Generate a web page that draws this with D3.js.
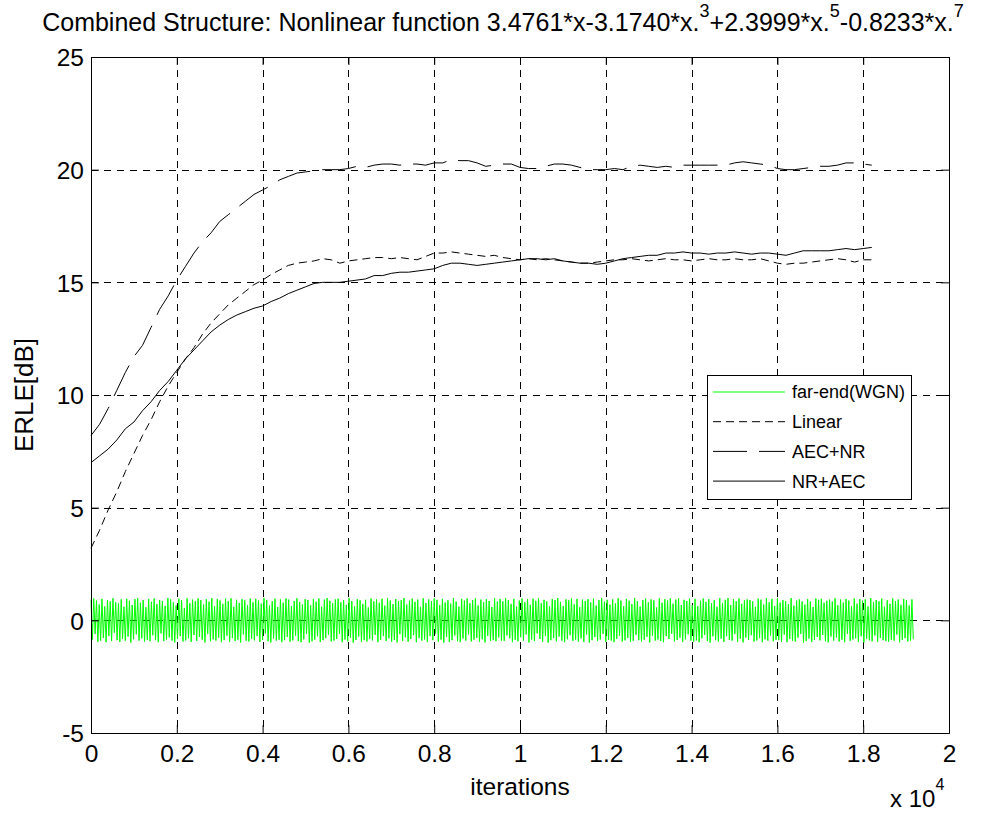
<!DOCTYPE html>
<html>
<head>
<meta charset="utf-8">
<script src="https://cdn.jsdelivr.net/npm/d3@7"></script>
<style>
  body { margin: 0; background: #fff; }
  svg { display: block; font-family: "Liberation Sans", Arial, sans-serif; }
</style>
</head>
<body>
<svg width="994" height="814"></svg>
<script>
// ---- data ----
// curves are sampled every 200 iterations, from 0 to 18200
const iterations = d3.range(0, 18201, 200);

const linear = [3.2, 4.0, 4.9, 5.7, 6.6, 7.4, 8.2, 8.9, 9.7, 10.4,
  11.0, 11.6, 12.1, 12.7, 13.2, 13.6, 14.0, 14.3, 14.6, 14.9,
  15.1, 15.35, 15.55, 15.75, 15.85, 15.9, 15.95, 16.05, 16.0, 15.85,
  15.95, 16.0, 16.05, 16.1, 16.1, 16.05, 16.1, 16.05, 16.0, 16.15,
  16.3, 16.3, 16.35, 16.3, 16.25, 16.2, 16.15, 16.2, 16.1, 16.05,
  16.0, 16.05, 16.0, 16.05, 16.0, 15.95, 15.9, 15.85, 15.85, 15.9,
  15.95, 16.0, 16.0, 16.05, 16.0, 15.95, 16.0, 16.05, 16.0, 16.0,
  15.95, 16.0, 16.05, 16.0, 16.0, 16.05, 16.0, 16.0, 16.05, 15.95,
  15.85, 15.8, 15.85, 15.85, 15.9, 15.95, 16.0, 16.05, 16.0, 15.9,
  16.0, 16.0];

const aecNr = [8.2, 8.7, 9.4, 10.2, 11.0, 11.7, 12.2, 13.0, 13.8, 14.4,
  15.1, 15.7, 16.3, 16.8, 17.2, 17.7, 18.0, 18.3, 18.6, 18.9,
  19.1, 19.3, 19.55, 19.7, 19.85, 19.9, 19.95, 20.0, 20.0, 20.0,
  20.05, 20.15, 20.1, 20.2, 20.25, 20.25, 20.2, 20.25, 20.25, 20.2,
  20.3, 20.3, 20.45, 20.4, 20.4, 20.3, 20.15, 20.2, 20.25, 20.25,
  20.1, 20.05, 20.05, 20.15, 20.25, 20.25, 20.2, 20.1, 20.0, 20.0,
  20.0, 20.05, 20.0, 20.15, 20.2, 20.15, 20.1, 20.15, 20.1, 20.2,
  20.2, 20.2, 20.2, 20.2, 20.2, 20.3, 20.35, 20.3, 20.25, 20.2,
  20.05, 20.0, 20.0, 20.05, 20.1, 20.15, 20.15, 20.2, 20.3, 20.3,
  20.25, 20.2];

const nrAec = [7.0, 7.3, 7.6, 8.0, 8.5, 8.8, 9.3, 9.7, 10.2, 10.6,
  11.1, 11.6, 12.0, 12.4, 12.8, 13.1, 13.35, 13.55, 13.7, 13.85,
  13.95, 14.15, 14.3, 14.5, 14.65, 14.8, 14.95, 15.0, 15.0, 15.0,
  15.05, 15.1, 15.15, 15.3, 15.3, 15.4, 15.45, 15.45, 15.5, 15.55,
  15.6, 15.75, 15.85, 15.85, 15.8, 15.75, 15.8, 15.85, 15.9, 15.95,
  16.0, 16.05, 16.05, 16.0, 16.05, 15.95, 15.9, 15.85, 15.85, 15.8,
  15.85, 15.95, 16.05, 16.1, 16.15, 16.2, 16.2, 16.3, 16.3, 16.35,
  16.3, 16.3, 16.25, 16.3, 16.3, 16.35, 16.3, 16.25, 16.3, 16.3,
  16.25, 16.2, 16.3, 16.4, 16.4, 16.4, 16.4, 16.45, 16.5, 16.45,
  16.5, 16.55];

// far-end white gaussian noise, one sample every 32 iterations
const farendStep = 32;
const farend = [
  0.92,-0.85,0.97,-0.6,0.88,-0.95,0.7,-0.9,0.95,-0.78,0.62,-0.97,0.9,-0.7,0.84,-0.92,0.98,-0.55,0.8,-0.88,
  0.75,-0.96,0.93,-0.82,0.6,-0.9,0.96,-0.72,0.87,-0.99,0.68,-0.84,0.94,-0.62,0.99,-0.9,0.78,-0.8,0.9,-0.95,
  0.58,-0.87,0.95,-0.93,0.82,-0.66,0.97,-0.88,0.72,-0.97,0.9,-0.58,0.86,-0.92,0.64,-0.85,0.99,-0.76,0.93,-0.9,
  0.8,-0.98,0.66,-0.83,0.96,-0.7,0.89,-0.94,0.55,-0.89,0.98,-0.8,0.76,-0.96,0.92,-0.65,0.85,-0.91,0.97,-0.74,
  0.9,-0.86,0.7,-0.98,0.94,-0.6,0.83,-0.93,0.99,-0.84,0.62,-0.9,0.95,-0.77,0.88,-0.97,0.73,-0.88,0.96,-0.68,
  0.85,-0.95,0.98,-0.79,0.6,-0.92,0.91,-0.86,0.77,-0.99,0.94,-0.63,0.89,-0.9,0.68,-0.94,0.97,-0.82,0.8,-0.89,
  0.95,-0.7,0.88,-0.96,0.74,-0.87,0.99,-0.58,0.9,-0.93,0.66,-0.98,0.85,-0.81,0.96,-0.9,0.59,-0.86,0.93,-0.97,
  0.78,-0.88,0.97,-0.74,0.92,-0.95,0.63,-0.89,0.86,-0.68,0.98,-0.92,0.81,-0.97,0.7,-0.84,0.94,-0.6,0.9,-0.99,
  0.67,-0.93,0.95,-0.86,0.83,-0.71,0.97,-0.96,0.6,-0.88,0.92,-0.79,0.99,-0.65,0.87,-0.94,0.76,-0.9,0.93,-0.83,
  0.96,-0.6,0.8,-0.97,0.9,-0.85,0.69,-0.93,0.98,-0.77,0.85,-0.99,0.62,-0.87,0.94,-0.72,0.89,-0.96,0.73,-0.88,
  0.91,-0.94,0.57,-0.82,0.97,-0.89,0.84,-0.64,0.93,-0.97,0.78,-0.86,0.96,-0.7,0.65,-0.92,0.99,-0.8,0.88,-0.95,
  0.72,-0.87,0.94,-0.98,0.86,-0.61,0.9,-0.91,0.99,-0.75,0.7,-0.95,0.87,-0.83,0.96,-0.66,0.82,-0.97,0.92,-0.79,
  0.6,-0.9,0.98,-0.85,0.77,-0.96,0.93,-0.7,0.85,-0.88,0.97,-0.59,0.91,-0.94,0.68,-0.86,0.95,-0.99,0.79,-0.73,
  0.89,-0.96,0.74,-0.88,0.99,-0.67,0.83,-0.93,0.61,-0.97,0.95,-0.81,0.88,-0.9,0.97,-0.63,0.76,-0.94,0.9,-0.86,
  0.97,-0.78,0.66,-0.95,0.92,-0.84,0.8,-0.98,0.94,-0.69,0.86,-0.91,0.59,-0.87,0.98,-0.93,0.83,-0.76,0.95,-0.9,
  0.84,-0.91,0.99,-0.67,0.9,-0.8,0.73,-0.97,0.95,-0.86,0.61,-0.93,0.88,-0.75,0.97,-0.9,0.8,-0.62,0.94,-0.98,
  0.69,-0.85,0.96,-0.92,0.87,-0.58,0.98,-0.83,0.76,-0.95,0.91,-0.7,0.84,-0.99,0.63,-0.88,0.95,-0.79,0.9,-0.93,
  0.99,-0.72,0.82,-0.9,0.64,-0.97,0.93,-0.84,0.89,-0.66,0.97,-0.91,0.71,-0.86,0.95,-0.94,0.58,-0.8,0.92,-0.96,
  0.86,-0.63,0.94,-0.99,0.79,-0.88,0.96,-0.74,0.66,-0.92,0.9,-0.85,0.98,-0.6,0.83,-0.95,0.91,-0.87,0.7,-0.9,
  0.93,-0.97,0.75,-0.82,0.98,-0.69,0.88,-0.94,0.62,-0.89,0.95,-0.78,0.87,-0.96,0.72,-0.91,0.99,-0.64,0.85,-0.88,
  0.61,-0.94,0.9,-0.86,0.96,-0.73,0.8,-0.98,0.93,-0.68,0.89,-0.9,0.57,-0.85,0.97,-0.92,0.78,-0.97,0.94,-0.7,
  0.88,-0.83,0.97,-0.6,0.74,-0.93,0.92,-0.87,0.99,-0.77,0.68,-0.96,0.91,-0.84,0.86,-0.62,0.96,-0.9,0.67,-0.95,
  0.95,-0.89,0.63,-0.97,0.87,-0.8,0.97,-0.65,0.82,-0.92,0.94,-0.99,0.76,-0.71,0.9,-0.88,0.6,-0.94,0.98,-0.81,
  0.77,-0.96,0.91,-0.7,0.99,-0.87,0.68,-0.9,0.94,-0.6,0.85,-0.95,0.97,-0.82,0.73,-0.98,0.89,-0.76,0.93,-0.87,
  0.9,-0.66,0.85,-0.94,0.6,-0.89,0.96,-0.79,0.92,-0.97,0.7,-0.84,0.98,-0.9,0.8,-0.68,0.95,-0.93,0.64,-0.86,
  0.97,-0.88,0.79,-0.95,0.9,-0.63,0.86,-0.97,0.72,-0.83,0.99,-0.91,0.65,-0.94,0.88,-0.77,0.93,-0.6,0.84,-0.99,
  0.7,-0.92,0.94,-0.81,0.83,-0.96,0.59,-0.87,0.97,-0.74,0.91,-0.89,0.96,-0.65,0.78,-0.93,0.87,-0.98,0.92,-0.72,
  0.83,-0.9,0.98,-0.76,0.67,-0.94,0.92,-0.86,0.79,-0.97,0.95,-0.6,0.88,-0.91,0.63,-0.85,0.97,-0.8,0.74,-0.96,
  0.94,-0.71,0.87,-0.98,0.93,-0.82,0.62,-0.89,0.99,-0.93,0.81,-0.67,0.9,-0.96,0.84,-0.78,0.96,-0.88,0.6,-0.92,
  0.89,-0.95,0.73,-0.86,0.97,-0.9,0.85,-0.63,0.92,-0.98,0.69,-0.87,0.95,-0.79,0.9,-0.94,0.66,-0.9,0.93,-0.84
];

const xTicks = [0, 2000, 4000, 6000, 8000, 10000, 12000, 14000, 16000, 18000, 20000];
const yTicks = [-5, 0, 5, 10, 15, 20, 25];
const legendNames = ["far-end(WGN)", "Linear", "AEC+NR", "NR+AEC"];

// ---- setup ----
const margin = { left: 91, right: 45, top: 57, bottom: 81 };
const width = 994, height = 814;
const plotW = width - margin.left - margin.right;
const plotH = height - margin.top - margin.bottom;

const svg = d3.select("svg");
const g = svg.append("g").attr("transform", `translate(${margin.left},${margin.top})`);

const x = d3.scaleLinear().domain([0, 20000]).range([0, plotW]);
const y = d3.scaleLinear().domain([-5, 25]).range([plotH, 0]);

// grid
const grid = g.append("g").attr("class", "grid")
  .attr("stroke", "#000").attr("stroke-width", 1).attr("stroke-dasharray", "7,6");
grid.selectAll(".vx").data(xTicks.slice(1, -1)).join("line")
  .attr("x1", d => Math.round(x(d)) + 0.5).attr("x2", d => Math.round(x(d)) + 0.5)
  .attr("y1", 0).attr("y2", plotH);
grid.selectAll(".hy").data(yTicks.slice(1, -1)).join("line")
  .attr("y1", d => Math.round(y(d)) + 0.5).attr("y2", d => Math.round(y(d)) + 0.5)
  .attr("x1", 0).attr("x2", plotW);

// series
const line = d3.line().x(d => x(d[0])).y(d => y(d[1]));

g.append("path")
  .datum(farend.map((v, i) => [i * farendStep, v]))
  .attr("d", line).attr("fill", "none")
  .attr("stroke", "#00ff00").attr("stroke-width", 1);

const curves = [
  { values: linear, dash: "8,5" },
  { values: aecNr, dash: "34,12" },
  { values: nrAec, dash: null }
];
curves.forEach(c => {
  g.append("path")
    .datum(iterations.map((t, i) => [t, c.values[i]]))
    .attr("d", line).attr("fill", "none")
    .attr("stroke", "#000").attr("stroke-width", 1)
    .attr("stroke-dasharray", c.dash);
});

// axes (inward ticks on all four sides)
const fmtX = d => d3.format("")(d / 10000);
const axB = g.append("g").attr("transform", `translate(0,${plotH})`)
  .call(d3.axisBottom(x).tickValues(xTicks).tickSize(-8).tickPadding(12).tickFormat(fmtX));
const axT = g.append("g")
  .call(d3.axisTop(x).tickValues(xTicks).tickSize(-8).tickFormat(""));
const axL = g.append("g")
  .call(d3.axisLeft(y).tickValues(yTicks).tickSize(-8).tickPadding(7));
const axR = g.append("g").attr("transform", `translate(${plotW},0)`)
  .call(d3.axisRight(y).tickValues(yTicks).tickSize(-8).tickFormat(""));

[axB, axT, axL, axR].forEach(a => {
  a.select(".domain").attr("stroke", "#000").attr("stroke-width", 1);
  a.selectAll(".tick line").attr("stroke", "#000");
  a.selectAll("text").attr("font-family", "Liberation Sans, Arial, sans-serif")
    .attr("font-size", 24.5).attr("fill", "#000");
});
axL.selectAll("text").attr("dy", "0.36em").text(d => d < 0 ? "-" + Math.abs(d) : d);

// legend
const lg = g.append("g").attr("transform", `translate(${707 - margin.left},${375 - margin.top})`);
lg.append("rect").attr("x", 0.5).attr("y", 0.5).attr("width", 204).attr("height", 124)
  .attr("fill", "#fff").attr("stroke", "#000");
const legendStyles = [
  { color: "#00ff00", dash: null },
  { color: "#000", dash: "8,5" },
  { color: "#000", dash: "34,12" },
  { color: "#000", dash: null }
];
legendNames.forEach((name, i) => {
  const cy = 17 + i * 29.7;
  lg.append("line").attr("x1", 6).attr("x2", 78).attr("y1", cy).attr("y2", cy)
    .attr("stroke", legendStyles[i].color).attr("stroke-dasharray", legendStyles[i].dash);
  lg.append("text").attr("x", 85).attr("y", cy).attr("dy", "0.36em")
    .attr("font-size", 18).text(name);
});

// labels
svg.append("text").attr("x", margin.left + plotW / 2).attr("y", 795)
  .attr("text-anchor", "middle").attr("font-size", 24.5).text("iterations");

svg.append("text").attr("transform", `translate(33,${margin.top + plotH / 2}) rotate(-90)`)
  .attr("text-anchor", "middle").attr("font-size", 26).text("ERLE[dB]");

const expo = svg.append("text").attr("x", 890).attr("y", 807).attr("font-size", 24);
expo.append("tspan").text("x 10");
expo.append("tspan").attr("dy", -17).attr("font-size", 16).text("4");

const title = svg.append("text").attr("x", 503).attr("y", 31)
  .attr("text-anchor", "middle").attr("font-size", 25);
const titleParts = [
  ["Combined Structure: Nonlinear function 3.4761*x-3.1740*x.", false], ["3", true],
  ["+2.3999*x.", false], ["5", true], ["-0.8233*x.", false], ["7", true]
];
titleParts.forEach(([s, sup]) => {
  title.append("tspan").attr("dy", sup ? -14 : 14).attr("font-size", sup ? 18 : 25).text(s);
});
title.select("tspan").attr("dy", 0);
</script>
</body>
</html>
